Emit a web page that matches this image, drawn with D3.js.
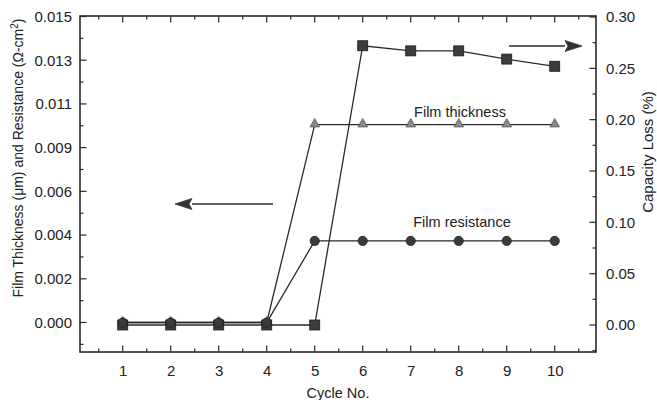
<!DOCTYPE html>
<html>
<head>
<meta charset="utf-8">
<script src="https://cdn.jsdelivr.net/npm/d3@7"></script>
<style>
  body { margin: 0; background: #fff; }
  text { font-family: "Liberation Sans", Arial, sans-serif; fill: #222; }
</style>
</head>
<body>
<svg id="svg" width="657" height="400"></svg>
<script>
// data
var cycles = [1, 2, 3, 4, 5, 6, 7, 8, 9, 10];
var capacityLoss = [0, 0, 0, 0, 0, 0.272, 0.267, 0.267, 0.259, 0.252];   // right axis, %
var filmThickness = [0, 0, 0, 0, 0.0097, 0.0097, 0.0097, 0.0097, 0.0097, 0.0097]; // left axis
var filmResistance = [0, 0, 0, 0, 0.0040, 0.0040, 0.0040, 0.0040, 0.0040, 0.0040]; // left axis

var leftTickLabels = ["0.000", "0.002", "0.004", "0.006", "0.009", "0.011", "0.013", "0.015"];
var rightTicks = [0, 0.05, 0.10, 0.15, 0.20, 0.25, 0.30];

var svg = d3.select("#svg");

// plot frame (don't call these top/left - window.top is taken)
var pl = 80, pr = 596, pt = 16, pb = 352;

var xScale = d3.scaleLinear().domain([0.11, 10.86]).range([pl, pr]);
// left axis: 0 -> 322.5, 0.015 -> 16.5
var yLeft = d3.scaleLinear().domain([0, 0.015]).range([322.5, 16.5]);
// right axis: 0 -> 325, 0.30 -> 17
var yRight = d3.scaleLinear().domain([0, 0.30]).range([325, 17]);

var leftStep = 0.015 / (leftTickLabels.length - 1);
var leftMajor = leftTickLabels.map(function(d, i) { return i * leftStep; });
var leftMinor = d3.range(-1, leftTickLabels.length - 1).map(function(i) { return (i + 0.5) * leftStep; });
var rightMinor = [-0.025, 0.025, 0.075, 0.125, 0.175, 0.225, 0.275];
var xMinor = cycles.map(function(c) { return c - 0.5; }).concat([10.5]);

var ink = "#2a2a2a";

// tick labels only, marks drawn separately below
svg.append("g").attr("class", "axis").attr("transform", "translate(" + pl + ",0)")
    .call(d3.axisLeft(yLeft).tickValues(leftMajor).tickSize(0).tickPadding(8)
        .tickFormat(function(d, i) { return leftTickLabels[i]; }));
svg.append("g").attr("class", "axis").attr("transform", "translate(" + pr + ",0)")
    .call(d3.axisRight(yRight).tickValues(rightTicks).tickSize(0).tickPadding(10)
        .tickFormat(d3.format(".2f")));
svg.append("g").attr("class", "axis").attr("transform", "translate(0," + pb + ")")
    .call(d3.axisBottom(xScale).tickValues(cycles).tickSize(0).tickPadding(13)
        .tickFormat(d3.format("d")));

svg.selectAll(".domain").remove();
svg.selectAll(".axis .tick text").style("font-size", "15px").attr("fill", "#222")
    .style("font-family", "'Liberation Sans', Arial, sans-serif");

// inward tick marks
function yTicks(vals, scale, x, dir, len) {
    svg.append("g").selectAll("line").data(vals).enter().append("line")
        .attr("x1", x).attr("x2", x + dir * len)
        .attr("y1", function(d) { return scale(d); })
        .attr("y2", function(d) { return scale(d); })
        .attr("stroke", ink).attr("stroke-width", 1.2);
}
function xTicks(vals, y, dir, len) {
    svg.append("g").selectAll("line").data(vals).enter().append("line")
        .attr("y1", y).attr("y2", y + dir * len)
        .attr("x1", function(d) { return xScale(d); })
        .attr("x2", function(d) { return xScale(d); })
        .attr("stroke", ink).attr("stroke-width", 1.2);
}
yTicks(leftMajor, yLeft, pl, 1, 6.5);
yTicks(leftMinor, yLeft, pl, 1, 3.5);
yTicks(rightTicks, yRight, pr, -1, 6.5);
yTicks(rightMinor, yRight, pr, -1, 3.5);
xTicks(cycles, pb, -1, 6.5);
xTicks(xMinor, pb, -1, 3.5);
xTicks(cycles, pt, 1, 6.5);
xTicks(xMinor, pt, 1, 3.5);

// frame
svg.append("rect")
    .attr("x", pl).attr("y", pt)
    .attr("width", pr - pl).attr("height", pb - pt)
    .attr("fill", "none").attr("stroke", ink).attr("stroke-width", 1.6);

// lines
function drawLine(vals, yScale) {
    var line = d3.line()
        .x(function(d, i) { return xScale(cycles[i]); })
        .y(function(d) { return yScale(d); });
    svg.append("path").datum(vals)
        .attr("d", line)
        .attr("fill", "none")
        .attr("stroke", ink)
        .attr("stroke-width", 1.3);
}
drawLine(filmThickness, yLeft);
drawLine(capacityLoss, yRight);
drawLine(filmResistance, yLeft);

// markers
svg.selectAll("path.tri").data(filmThickness).enter().append("path")
    .attr("class", "tri")
    .attr("d", d3.symbol().type(d3.symbolTriangle).size(40))
    .attr("transform", function(d, i) { return "translate(" + xScale(cycles[i]) + "," + (yLeft(d) - 0.5) + ")"; })
    .attr("fill", "#8a8a8a").attr("stroke", "#555").attr("stroke-width", 0.8);

svg.selectAll("rect.sq").data(capacityLoss).enter().append("rect")
    .attr("class", "sq")
    .attr("x", function(d, i) { return xScale(cycles[i]) - 5; })
    .attr("y", function(d) { return yRight(d) - 5; })
    .attr("width", 10).attr("height", 10)
    .attr("fill", "#3c3c3c").attr("stroke", "#1a1a1a").attr("stroke-width", 0.8);

svg.selectAll("circle.res").data(filmResistance).enter().append("circle")
    .attr("class", "res")
    .attr("cx", function(d, i) { return xScale(cycles[i]); })
    .attr("cy", function(d) { return yLeft(d); })
    .attr("r", 4.6)
    .attr("fill", "#3c3c3c").attr("stroke", "#1a1a1a").attr("stroke-width", 0.8);

// series labels
svg.append("text").attr("x", 460).attr("y", 117).attr("text-anchor", "middle")
    .style("font-size", "14.5px").text("Film thickness");
svg.append("text").attr("x", 462).attr("y", 227).attr("text-anchor", "middle")
    .style("font-size", "14.5px").text("Film resistance");

// arrows
function arrow(x1, x2, y) {
    var dir = x2 > x1 ? 1 : -1;
    var headLen = 17, headHalf = 5.5;
    svg.append("line")
        .attr("x1", x1).attr("y1", y)
        .attr("x2", x2 - dir * headLen).attr("y2", y)
        .attr("stroke", ink).attr("stroke-width", 1.3);
    svg.append("path")
        .attr("d", "M" + x2 + "," + y +
            "L" + (x2 - dir * headLen) + "," + (y - headHalf) +
            "L" + (x2 - dir * headLen + dir * 3) + "," + y +
            "L" + (x2 - dir * headLen) + "," + (y + headHalf) + "Z")
        .attr("fill", "#333").attr("stroke", "#333").attr("stroke-width", 0.8);
}
arrow(273, 175, 204);
arrow(509, 582, 46);

// axis titles
svg.append("text")
    .attr("transform", "translate(23,158) rotate(-90)")
    .attr("text-anchor", "middle")
    .style("font-size", "14px")
    .html("Film Thickness (μm) and Resistance (Ω-cm<tspan dy='-5' style='font-size:10px'>2</tspan><tspan dy='5'>)</tspan>");

svg.append("text")
    .attr("transform", "translate(653,152) rotate(-90)")
    .attr("text-anchor", "middle")
    .style("font-size", "15px")
    .text("Capacity Loss (%)");

svg.append("text")
    .attr("x", 338).attr("y", 398)
    .attr("text-anchor", "middle")
    .style("font-size", "14.5px")
    .text("Cycle No.");
</script>
</body>
</html>
